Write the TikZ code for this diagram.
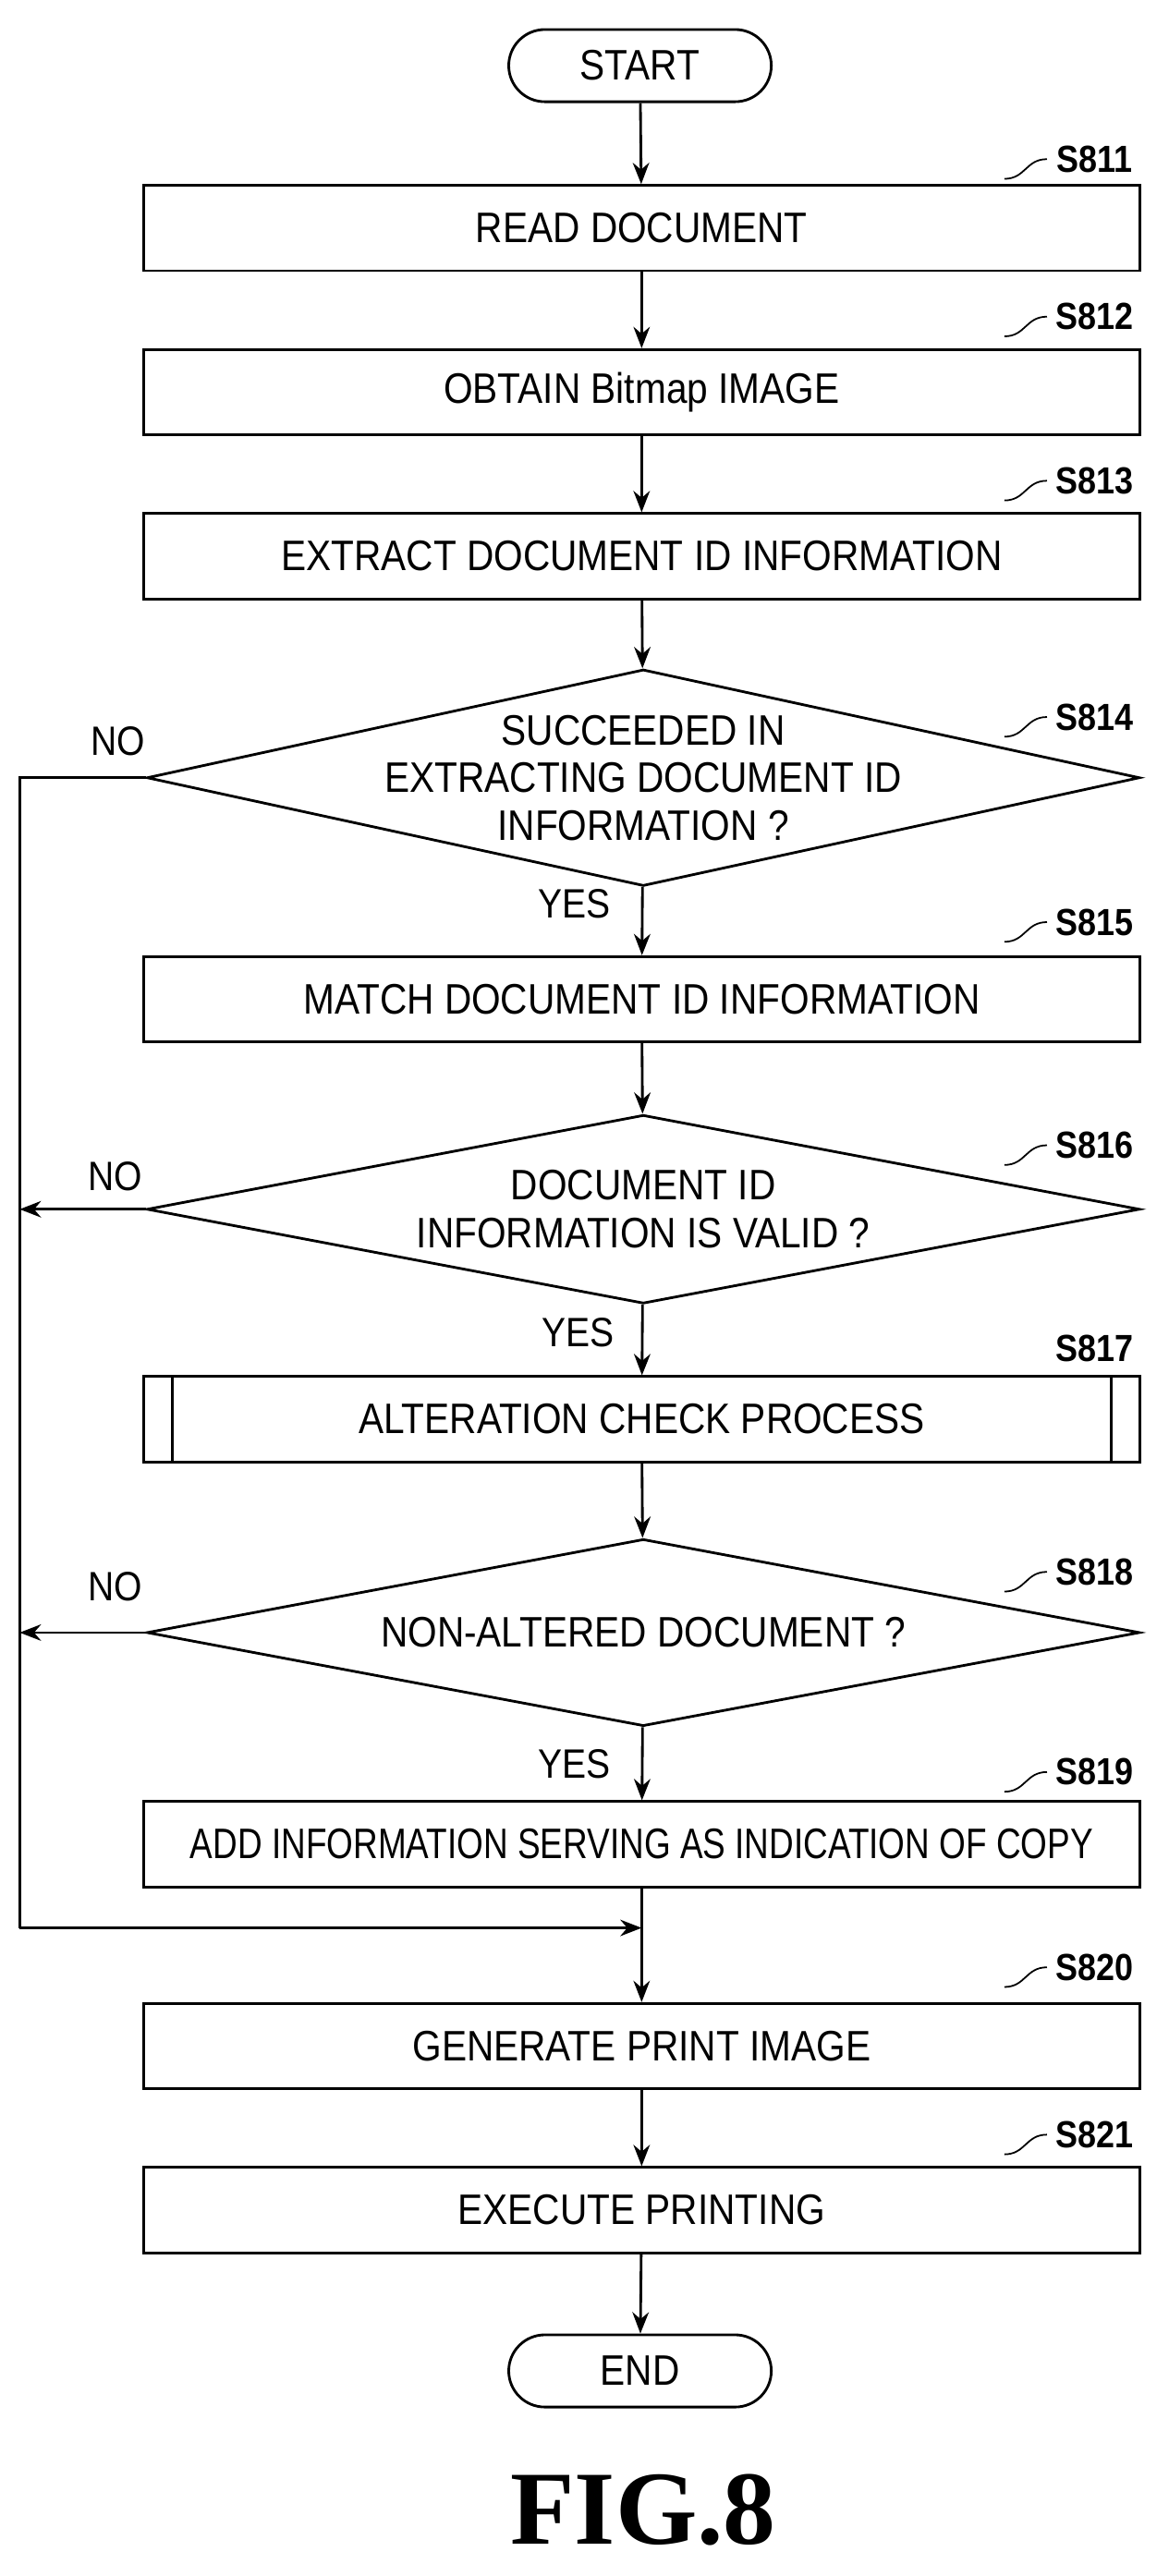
\documentclass[tikz,border=0pt]{standalone}
\usepackage{fontspec}
\setmainfont{Liberation Sans}
\newfontfamily\figfont{Liberation Serif}
\usetikzlibrary{shapes.geometric,arrows.meta}
\newcommand\cz[1]{\scalebox{0.88}[1]{#1}}
\begin{document}
\begin{tikzpicture}[x=1pt,y=-1pt,
  box/.style={draw,line width=1.6pt,minimum width=607pt,minimum height=52pt,inner sep=0pt,font=\fontsize{26}{30}\selectfont},
  dia/.style={draw,line width=1.6pt,diamond,aspect=4.6,minimum width=605pt,inner sep=0pt,align=center,font=\fontsize{26}{29}\selectfont},
  term/.style={draw,line width=1.6pt,rounded corners=22pt,minimum width=160pt,minimum height=44pt,font=\fontsize{26}{30}\selectfont},
  arr/.style={line width=1.6pt,-{Stealth[length=13pt,width=10pt]}},
  ln/.style={line width=1.6pt},
  lab/.style={font=\fontsize{23}{26}\selectfont\bfseries},
  yn/.style={font=\fontsize{25}{28}\selectfont}]
\useasboundingbox (0,0) rectangle (712,1570);
\node[term] (start) at (390,40) {\cz{START}};
\node[box] (s811) at (391,139) {\cz{READ DOCUMENT}};
\node[box] (s812) at (391,239) {\cz{OBTAIN Bitmap IMAGE}};
\node[box] (s813) at (391,339) {\cz{EXTRACT DOCUMENT ID INFORMATION}};
\node[dia,minimum height=132pt,inner xsep=-30pt,inner ysep=-12pt] (s814) at (392,474) {\cz{SUCCEEDED IN}\\\cz{EXTRACTING DOCUMENT ID}\\\cz{INFORMATION ?}};
\node[box] (s815) at (391,609) {\cz{MATCH DOCUMENT ID INFORMATION}};
\node[dia,minimum height=115pt] (s816) at (392,737) {\cz{DOCUMENT ID}\\\cz{INFORMATION IS VALID ?}};
\node[box] (s817) at (391,865) {\cz{ALTERATION CHECK PROCESS}};
\draw[ln] (105,839) -- (105,891) (677,839) -- (677,891);
\node[dia,minimum height=114pt] (s818) at (392,995) {\cz{NON-ALTERED DOCUMENT ?}};
\node[box] (s819) at (391,1124) {\scalebox{0.8}[1]{ADD INFORMATION SERVING AS INDICATION OF COPY}};
\coordinate (m) at (391,1175);
\node[box] (s820) at (391,1247) {\cz{GENERATE PRINT IMAGE}};
\node[box] (s821) at (391,1347) {\cz{EXECUTE PRINTING}};
\node[term] (end) at (390,1445) {\cz{END}};
\node[font=\figfont\bfseries\fontsize{64}{66}\selectfont] (fig) at (392,1530) {FIG.8};
\draw[arr] (start) -- (s811);
\draw[arr] (s811) -- (s812);
\draw[arr] (s812) -- (s813);
\draw[arr] (s813) -- (s814);
\draw[arr] (s814) -- (s815);
\draw[arr] (s815) -- (s816);
\draw[arr] (s816) -- (s817);
\draw[arr] (s817) -- (s818);
\draw[arr] (s818) -- (s819);
\draw[ln] (s819) -- (m);
\draw[arr] (m) -- (s820);
\draw[arr] (s820) -- (s821);
\draw[arr] (s821) -- (end);
\coordinate (l) at (12,474);
\draw[ln] (s814.west) -- (l) -- (12,1175);
\draw[arr] (12,1175) -- (m);
\draw[arr] (s816.west) -- (12,737);
\draw[arr] (s818.west) -- (12,995);
\node[yn] at (72,452) {\cz{NO}};
\node[yn] at (70,717) {\cz{NO}};
\node[yn] at (70,967) {\cz{NO}};
\node[yn] at (350,551) {\cz{YES}};
\node[yn] at (352,812) {\cz{YES}};
\node[yn] at (350,1075) {\cz{YES}};
\foreach \n/\y in {811/97,812/193,813/293,814/437,815/562,816/698,818/958,819/1080,820/1199,821/1301}{
  \node[lab] at (667,\y) {\cz{S\n}};
  \draw[line width=1pt] (612,\y+12) .. controls (625,\y+12) and (625,\y) .. (638,\y);
}
\node[lab] at (667,822) {\cz{S817}};
\end{tikzpicture}
\end{document}
